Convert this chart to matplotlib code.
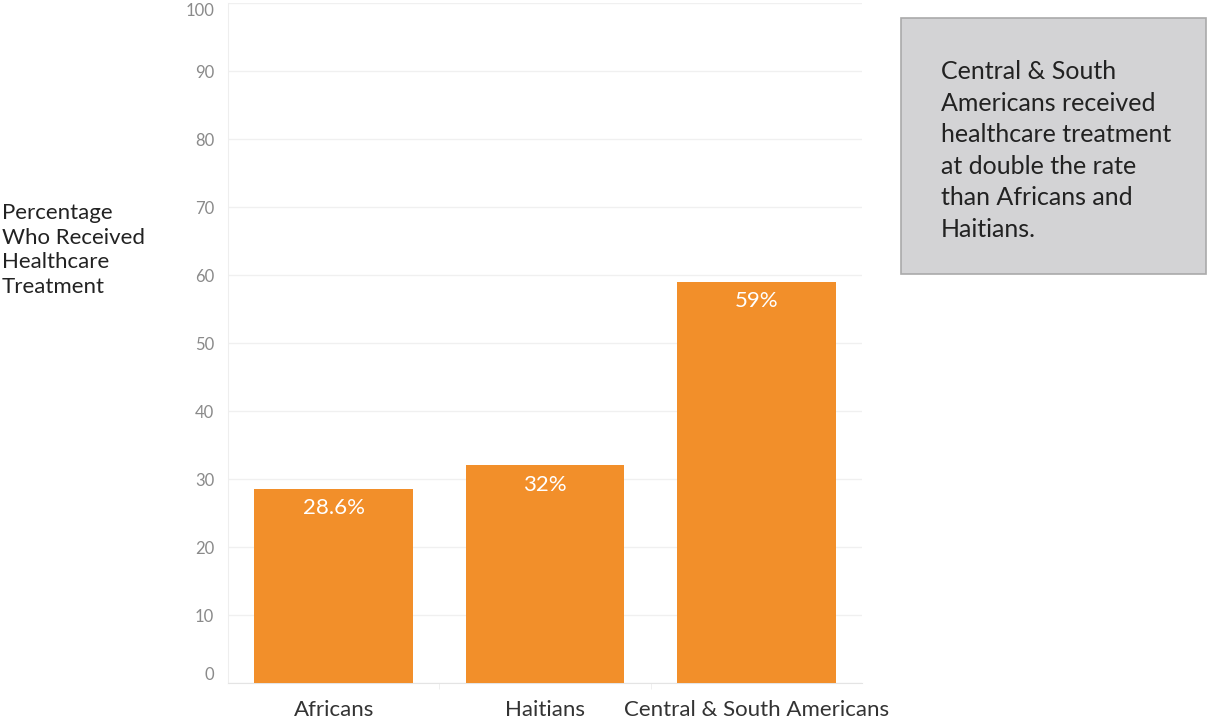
import matplotlib
matplotlib.use("Agg")
import matplotlib.pyplot as plt
from matplotlib.patches import Rectangle

categories = ["Africans", "Haitians", "Central & South Americans"]
values = [28.6, 32, 59]
value_labels = ["28.6%", "32%", "59%"]
yticks = [0, 10, 20, 30, 40, 50, 60, 70, 80, 90, 100]
note = ("Central & South\nAmericans received\nhealthcare treatment\n"
        "at double the rate\nthan Africans and\nHaitians.")
ylabel = "Percentage\nWho Received\nHealthcare\nTreatment"

plt.rcParams["font.family"] = ["Lato", "DejaVu Sans"]

fig = plt.figure(figsize=(12.07, 7.23), dpi=100)
ax = fig.add_axes([228 / 1207, 40 / 723, 634 / 1207, 680 / 723])

x = list(range(len(categories)))
ax.bar(x, values, width=0.75, color="#f28f2a", zorder=3)
for xi, v, lab in zip(x, values, value_labels):
    ax.annotate(lab, (xi, v), xytext=(0, -14), textcoords="offset points",
                ha="center", va="center", color="white", fontsize=16, zorder=4)

ax.set_xlim(-0.5, 2.5)
ax.set_ylim(0, 100)
ax.set_yticks(yticks)
ax.set_xticks(x)
ax.set_xticklabels(categories, fontsize=16, color="#333333")
ax.set_xticks([0.5, 1.5], minor=True)
ax.tick_params(axis="x", which="major", length=0, pad=12)
ax.tick_params(axis="x", which="minor", length=4, color="#ededed")
ax.tick_params(axis="y", length=0, pad=10, labelsize=12, labelcolor="#8a8a8a")
ylabs = ax.get_yticklabels()
ylabs[0].set_va("bottom")
ylabs[-1].set_va("top")
ax.grid(axis="y", color="#f0f0f0", linewidth=1, zorder=0)

for side in ["top", "right"]:
    ax.spines[side].set_visible(False)
ax.spines["left"].set_color("#eeeeee")
ax.spines["bottom"].set_color("#e4e4e4")

fig.text(2 / 1207, 1 - 250 / 723, ylabel, ha="left", va="center",
         fontsize=16, color="#222222", linespacing=1.3)

box = Rectangle((901 / 1207, 1 - 274 / 723), 305 / 1207, 256 / 723,
                transform=fig.transFigure, facecolor="#d3d3d5",
                edgecolor="#aaaaaa", linewidth=1.2)
fig.patches.append(box)
fig.text(941 / 1207, 1 - 60 / 723, note, ha="left", va="top",
         fontsize=18, color="#222222", linespacing=1.45)

fig.savefig("out.png", dpi=100)
